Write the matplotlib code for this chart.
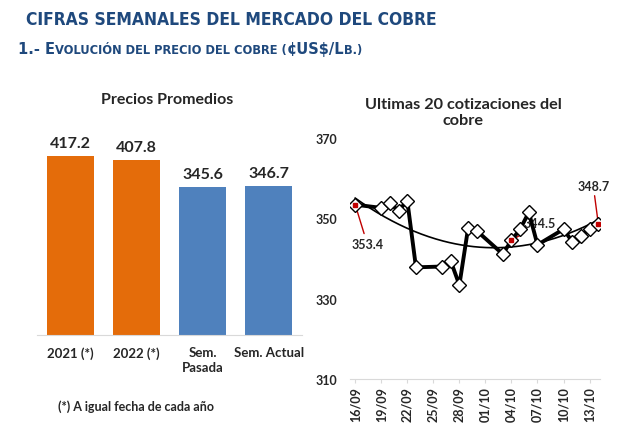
import numpy as np
import pandas as pd
import matplotlib
matplotlib.use("Agg")
import matplotlib.pyplot as plt
import matplotlib.dates as mdates

# --- data ---
bar_labels = ["2021 (*)", "2022 (*)", "Sem.\nPasada", "Sem. Actual"]
bar_values = [417.2, 407.8, 345.6, 346.7]
bar_colors = ["#E46C0A", "#E46C0A", "#4F81BD", "#4F81BD"]

dates = pd.to_datetime([
    "2022-09-16", "2022-09-19", "2022-09-20", "2022-09-21", "2022-09-22",
    "2022-09-23", "2022-09-26", "2022-09-27", "2022-09-28", "2022-09-29",
    "2022-09-30", "2022-10-03", "2022-10-04", "2022-10-05", "2022-10-06",
    "2022-10-07", "2022-10-10", "2022-10-11", "2022-10-12", "2022-10-13",
    "2022-10-14"])
prices = [353.4, 352.6, 353.7, 351.9, 354.4,
          337.8, 338.0, 339.4, 333.4, 347.5,
          346.9, 341.1, 344.5, 347.3, 351.5,
          343.4, 347.3, 344.2, 345.7, 347.3,
          348.7]
# annotated points: (index, label, offset in pixels)
notes = [(0, "353.4", (12, -39)), (12, "344.5", (28, 17)), (20, "348.7", (-5, 38))]

navy = "#1F497D"
red = "#C00000"
txt = "#262626"
calib = ["Lato", "DejaVu Sans"]

fig = plt.figure(figsize=(6.32, 4.27), dpi=100)

# --- header ---
fig.text(26 / 632, 1 - 20 / 427, "CIFRAS SEMANALES DEL MERCADO DEL COBRE",
         fontsize=12.5, fontweight="bold", color=navy, va="center",
         family="DejaVu Sans", fontstretch="condensed")

# small caps subtitle built from pieces
pieces = [("1.- E", 10.5), ("VOLUCIÓN DEL PRECIO DEL COBRE (", 8.3),
          ("¢US$/L", 10.5), ("B.)", 8.3)]
r = fig.canvas.get_renderer()
x = 18
for s, fs in pieces:
    t = fig.text(x / 632, 1 - 54 / 427, s, fontsize=fs, fontweight="bold",
                 color=navy, va="baseline", family="DejaVu Sans")
    x += t.get_window_extent(r).width

# --- left: bar chart ---
ax1 = fig.add_axes([37 / 632, 91 / 427, 265 / 632, 206 / 427])
xs = np.arange(len(bar_values))
bars = ax1.bar(xs, bar_values, width=0.71, color=bar_colors)
for b, v in zip(bars, bar_values):
    ax1.annotate(f"{v:.1f}", (b.get_x() + b.get_width() / 2, v),
                 xytext=(0, 6), textcoords="offset pixels", ha="center",
                 va="bottom", fontsize=11.5, fontweight="bold", color=txt,
                 family=calib)
ax1.set_xlim(-0.5, 3.5)
ax1.set_ylim(0, 480)
ax1.set_xticks(xs)
ax1.set_xticklabels(bar_labels, fontsize=9.5, fontweight="bold", color=txt,
                    family=calib, va="top", linespacing=1.25)
ax1.tick_params(axis="x", length=0, pad=8)
ax1.set_yticks([])
for sp in ["left", "right", "top"]:
    ax1.spines[sp].set_visible(False)
ax1.spines["bottom"].set_color("#D9D9D9")
fig.text(167 / 632, 1 - 100 / 427, "Precios Promedios", ha="center",
         va="center", fontsize=11.5, fontweight="bold", color=txt, family=calib)
fig.text(136 / 632, 1 - 407 / 427, "(*) A igual fecha de cada año",
         ha="center", va="center", fontsize=9, fontweight="bold", color=txt,
         family=calib)

# --- right: line chart ---
ax2 = fig.add_axes([350 / 632, 47 / 427, 250 / 632, 241 / 427])
xd = mdates.date2num(dates)
# polynomial trend line (like Excel's)
coef = np.polyfit(xd - xd[0], prices, 2)
xx = np.linspace(xd[0], xd[-1], 200)
ax2.plot(xx, np.polyval(coef, xx - xd[0]), color="black", lw=1.2, zorder=2)
ax2.plot(xd, prices, color="black", lw=2.8, marker="D", markersize=7.5,
         markerfacecolor="white", markeredgecolor="black", markeredgewidth=1,
         zorder=4)
for i, lab, off in notes:
    ax2.plot(xd[i], prices[i], "s", color=red, markersize=3, zorder=5)
    ax2.annotate(lab, (xd[i], prices[i]), xytext=off,
                 textcoords="offset pixels", ha="center", va="center",
                 fontsize=9, fontweight="bold", color=txt, family=calib,
                 arrowprops=dict(arrowstyle="-", color=red, lw=1,
                                 shrinkA=1, shrinkB=1), zorder=3)
ax2.set_xlim(xd[0] - 0.6, xd[-1] + 0.2)
ax2.set_ylim(310, 370)
ax2.set_yticks([310, 330, 350, 370])
ax2.set_xticks(np.arange(xd[0], xd[-1], 3))
ax2.xaxis.set_major_formatter(mdates.DateFormatter("%d/%m"))
for lb in ax2.get_xticklabels() + ax2.get_yticklabels():
    lb.set_fontweight("bold")
    lb.set_family(calib)
    lb.set_color(txt)
    lb.set_fontsize(9)
ax2.tick_params(axis="x", rotation=90, length=3, color="#D9D9D9", pad=2)
ax2.tick_params(axis="y", length=0, pad=9)
for sp in ["left", "right", "top"]:
    ax2.spines[sp].set_visible(False)
ax2.spines["bottom"].set_color("#D9D9D9")
fig.text(463 / 632, 1 - 113 / 427, "Ultimas 20 cotizaciones del\ncobre",
         ha="center", va="center", fontsize=11.7, fontweight="bold",
         color=txt, family=calib, linespacing=1.15)

fig.savefig("out.png", dpi=100)
